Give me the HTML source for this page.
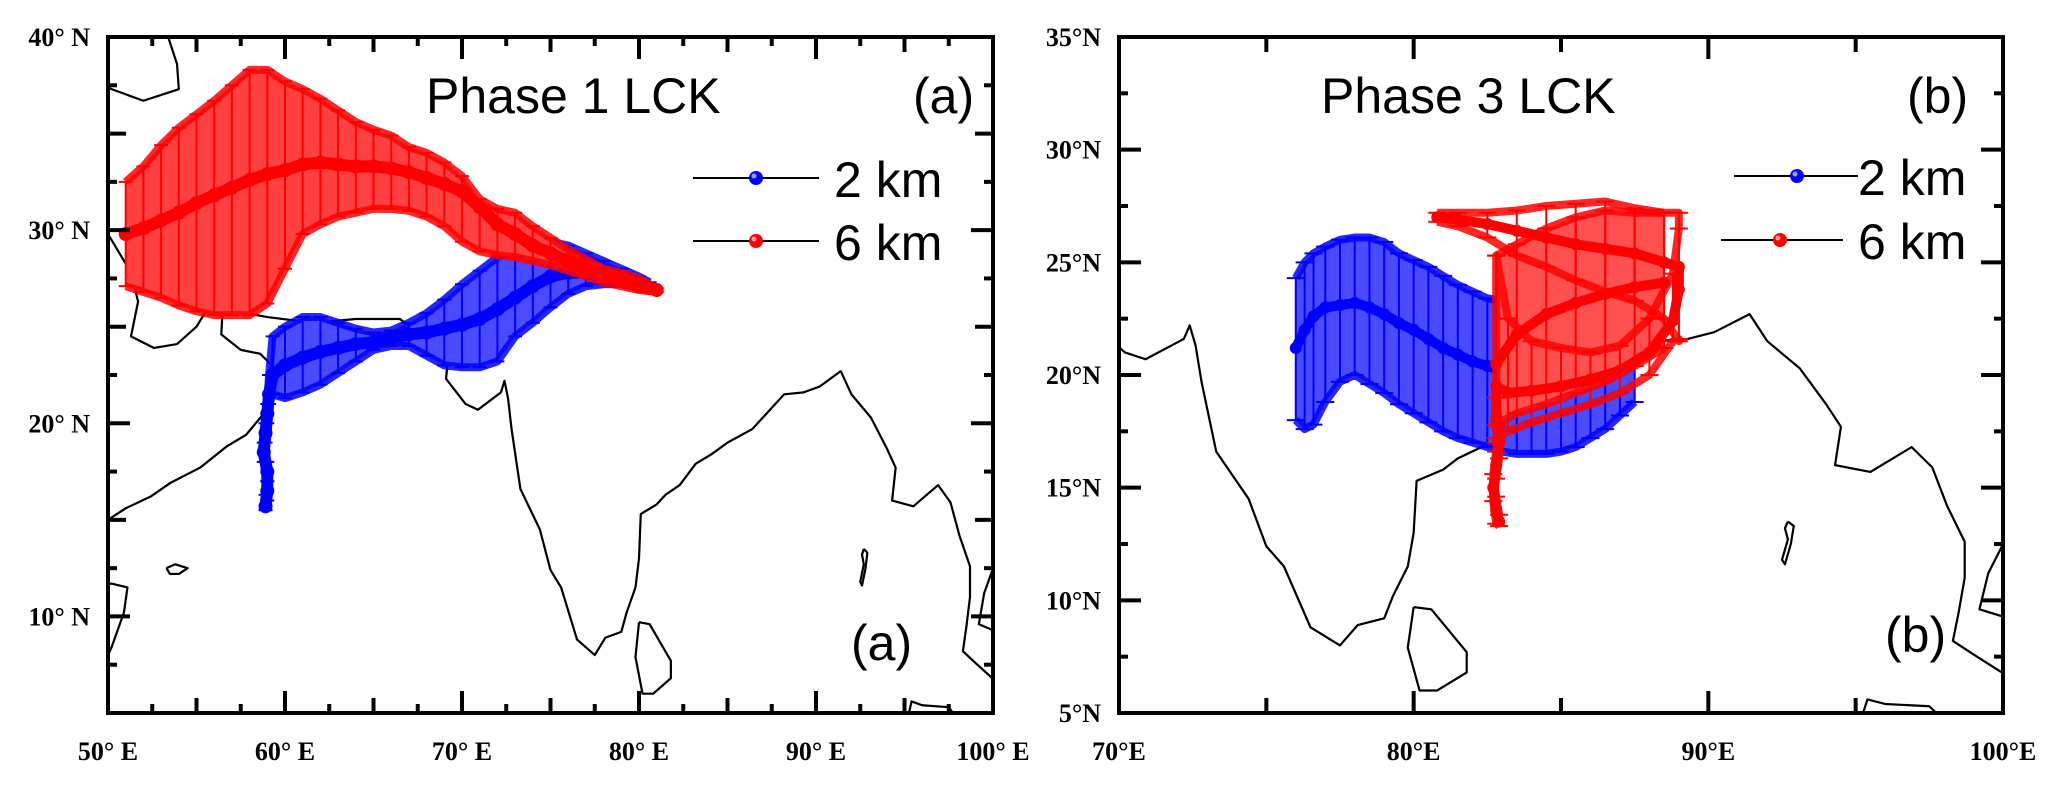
<!DOCTYPE html>
<html><head><meta charset="utf-8"><style>
html,body{margin:0;padding:0;background:#fff;}
svg{display:block;}
.ax{font-family:"Liberation Serif",serif;font-weight:bold;font-size:26px;fill:#000;}
.tt{font-family:"Liberation Sans",sans-serif;font-size:50px;fill:#000;}
</style></head><body>
<svg id="fig" width="2068" height="786" viewBox="0 0 2068 786" xmlns="http://www.w3.org/2000/svg">
<defs>
<clipPath id="clipA"><rect x="108" y="37" width="885" height="676"/></clipPath>
<clipPath id="clipB"><rect x="1119" y="37" width="884" height="676"/></clipPath>
</defs>
<g id="panelA"></g>
<g id="panelB"></g>
</svg>
<script>
// ---------- Panel A data (Phase 1) ----------
const a6Lon = [51,52,53,54,55,56,57,58,59,60,61,62,63,64,65,66,67,68,69,70,71,72,73,74,75,76,77,78,79,80,81];
const a6Lat = [29.8,30.1,30.5,30.9,31.4,31.8,32.2,32.6,32.9,33.1,33.4,33.5,33.4,33.3,33.3,33.2,33.0,32.7,32.4,32.0,31.2,30.3,29.8,29.2,28.8,28.4,28.0,27.7,27.4,27.1,26.9];
const a6Hi  = [32.5,33.3,34.4,35.3,36.0,36.7,37.5,38.3,38.3,37.7,37.3,36.8,36.2,35.6,35.2,34.9,34.3,34.0,33.5,32.8,31.6,31.1,30.9,30.2,29.6,29.0,28.5,28.0,27.8,27.5,27.0];
const a6Lo  = [27.1,26.8,26.5,26.1,25.8,25.6,25.6,25.6,26.2,28.0,29.8,30.3,30.7,30.9,31.1,31.1,31.0,30.7,30.2,29.4,28.9,28.7,28.6,28.4,28.2,27.9,27.6,27.3,27.1,26.9,26.8];
const a2Lon = [58.9,59.0,59.0,58.8,58.9,59.0,59.1,59.3,60,61,62,63,64,65,66,67,68,69,70,71,72,73,74,75,76,77,78,79,80,80.6];
const a2Lat = [15.7,16.5,17.5,18.5,19.5,20.5,21.5,22.5,23.0,23.4,23.7,23.9,24.1,24.2,24.4,24.6,24.7,24.9,25.1,25.4,25.9,26.5,27.1,27.6,27.8,27.8,27.6,27.4,27.2,27.0];
const a2Hi  = [16.3,17.0,18.0,19.0,20.0,21.0,22.5,24.5,25.0,25.5,25.5,25.2,24.9,24.7,24.8,25.2,25.7,26.4,27.2,27.9,28.6,28.9,29.2,29.4,29.2,28.8,28.4,28.0,27.6,27.3];
const a2Lo  = [15.5,16.0,17.0,18.0,19.0,20.0,21.0,21.5,21.3,21.6,22.0,22.6,23.2,23.8,24.0,24.0,23.5,23.0,22.9,22.9,23.2,24.5,25.2,26.0,26.7,27.1,27.2,27.2,27.0,26.9];
// ---------- Panel B data (Phase 3) ----------
const b2Lon = [76.0,76.3,76.6,77.0,77.5,78.0,78.5,79,79.5,80,80.5,81,81.5,82,82.5,83,83.5,84,84.5,85,85.5,86,86.5,87,87.5];
const b2Lat = [21.2,22.0,22.6,23.0,23.1,23.2,23.0,22.7,22.3,22.0,21.6,21.2,20.9,20.6,20.4,20.2,20.0,20.0,20.0,20.0,20.1,20.2,20.4,20.7,21.2];
const b2Hi  = [24.3,25.0,25.4,25.7,26.0,26.1,26.1,25.9,25.4,25.1,24.8,24.4,24.0,23.7,23.4,23.3,23.3,23.3,23.6,23.8,24.0,24.2,23.9,23.5,23.0];
const b2Lo  = [18.0,17.6,17.8,18.8,19.7,20.0,19.6,19.2,18.7,18.3,17.9,17.5,17.2,17.0,16.8,16.6,16.5,16.5,16.5,16.6,16.8,17.2,17.6,18.2,18.8];
const b6Lon = [80.8,81.5,82.5,83.5,84.5,85.5,86.5,87.5,88.5,89.0,89.0,88.8,88.0,87.0,86.0,85.0,84.0,83.2,82.8,82.8,82.9,82.8,82.7,82.8,82.9];
const b6Lat = [27.0,26.9,26.7,26.4,26.1,25.8,25.6,25.4,25.0,24.8,23.8,22.4,21.0,20.2,19.8,19.5,19.3,19.2,19.5,18.0,17.0,16.0,15.0,14.0,13.5];
const b6Hi  = [27.2,27.2,27.2,27.3,27.5,27.6,27.7,27.4,27.2,27.2,26.5,24.5,22.5,21.3,21.0,21.2,21.5,22.5,25.3,19.0,17.7,16.6,15.6,14.6,13.8];
const b6Lo  = [26.8,26.6,26.1,25.3,24.8,24.2,23.7,23.3,22.5,21.5,21.6,21.5,20.0,19.2,18.7,18.3,17.9,17.5,17.2,17.0,16.3,15.4,14.4,13.4,13.3];
const b6bLon = [82.8,83.5,84.5,85.5,86.5,87.5,88.5];
const b6bLat = [20.5,21.8,22.7,23.2,23.6,23.9,24.1];
const b6bHi  = [25.3,25.8,26.5,27.0,27.3,27.2,27.2];
const b6bLo  = [17.8,18.3,18.7,19.2,19.7,20.4,21.2];
// ---------- Coastlines (lon,lat) ----------
const coastMain = [[50,29.8],[51.3,27.8],[51.7,26.3],[51.3,24.5],[52.6,23.9],[53.9,24.1],[55,25],[56.2,26.8],[56.5,26.3],[56.4,24.6],[57.5,23.8],[58.6,23.6],[59.8,22.5],[58.8,20.5],[57.8,19.4],[56.7,18.8],[55.2,17.7],[53.5,16.9],[52.4,16.2],[51,15.6],[50,15.0]];
const coastIndia = [[56.3,27.1],[57.2,25.8],[59,25.5],[61.6,25.2],[64,25.4],[66.5,25.4],[67.3,24.8],[68.3,23.7],[69.2,23.3],[69.1,22.3],[70.2,21.0],[70.9,20.7],[72.2,21.6],[72.4,22.2],[72.6,21.3],[72.8,19.7],[73.3,16.6],[74.4,14.5],[75,12.4],[75.6,11.5],[76.5,8.8],[77.5,8.0],[78.1,8.9],[79,9.2],[79.3,10.2],[79.8,11.5],[80,13],[80.1,15.3],[81,15.8],[81.5,16.3],[82.3,16.8],[83.2,17.9],[84.1,18.4],[85,19],[86.4,19.7],[87.3,20.6],[88.2,21.5],[89.3,21.6],[90.2,21.9],[91.4,22.7],[92,21.5],[93.1,20.3],[94,18.7],[94.5,17.7],[94.3,16],[95.5,15.7],[96.9,16.8],[97.6,15.9],[98.1,14.2],[98.7,12.6],[98.7,11],[98.5,9.5],[98.3,8.2],[99,7.6],[100.2,6.6]];
const coastCaspian = [[53.3,40.5],[53.4,40],[53.9,38.6],[54,37.3],[52,36.7],[50.2,37.3],[49.8,37.5]];
const coastThai = [[100.2,13.0],[99.5,11.2],[99.2,9.6],[100.2,9.2]];
const coastSriLanka = [[80,9.7],[80.6,9.6],[81.8,7.7],[81.8,6.8],[80.8,6.0],[80.2,6.0],[79.8,7.9],[80,9.7]];
const coastAndaman = [[92.7,13.5],[92.9,13.3],[92.8,12.5],[92.6,11.6],[92.5,11.8],[92.7,12.7],[92.6,13.2],[92.7,13.5]];
const coastSocotra = [[53.3,12.5],[53.8,12.7],[54.5,12.5],[54.0,12.2],[53.5,12.2],[53.3,12.5]];
const coastHorn = [[49.8,11.6],[50.2,11.7],[51.1,11.5],[50.9,10.2],[50.2,8.4],[49.8,7.6]];
const coastSumatra = [[95.2,4.8],[95.4,5.6],[96,5.4],[97.5,5.3],[97.9,4.8]];
const coasts = [coastMain,coastIndia,coastCaspian,coastThai,coastSriLanka,coastAndaman,coastSocotra,coastHorn,coastSumatra];

const NS="http://www.w3.org/2000/svg";
function mk(tag, attrs, parent){const e=document.createElementNS(NS,tag);for(const k in attrs)e.setAttribute(k,attrs[k]);parent.appendChild(e);return e;}

function drawPanel(g, P){
  const X = lon => P.x0 + (lon-P.lon0)/(P.lon1-P.lon0)*(P.x1-P.x0);
  const Y = lat => P.y1 - (lat-P.lat0)/(P.lat1-P.lat0)*(P.y1-P.y0);
  const inner = mk('g',{'clip-path':'url(#'+P.clip+')'},g);
  coasts.forEach(c=>{
    const p = mk('polyline',{points:c.map(q=>X(q[0])+','+Y(q[1])).join(' '),fill:'none',stroke:'#000','stroke-width':2.2,'stroke-linejoin':'round'},inner);
    
    
  });
  P.series.forEach(s=>{
    const sg = mk('g',{},inner);
    
    
    const n = s.lon.length;
    const capW = P.capW;
    let pts=[];
    for(let i=0;i<n;i++) pts.push(X(s.lon[i])+','+Y(s.hi[i]));
    for(let i=n-1;i>=0;i--) pts.push(X(s.lon[i])+','+Y(s.lo[i]));
    if(s.band){
      const b = mk('polygon',{points:pts.join(' '),fill:s.fill,stroke:'none'},sg);
      
      
    }
    for(let i=0;i<n;i++){
      const x=X(s.lon[i]);
      const eb = mk('path',{d:`M${x},${Y(s.hi[i])}V${Y(s.lo[i])}M${x-capW},${Y(s.hi[i])}H${x+capW}M${x-capW},${Y(s.lo[i])}H${x+capW}`,stroke:s.color,'stroke-width':2,fill:'none'},sg);
      
      
    }
    ['hi','lo'].forEach(k=>{
      const e = mk('polyline',{points:s.lon.map((v,i)=>X(v)+','+Y(s[k][i])).join(' '),fill:'none',stroke:s.color,'stroke-width':8,'stroke-linejoin':'round','stroke-opacity':0.85},sg);
      
      
    });
    const ln = mk('polyline',{points:s.lon.map((v,i)=>X(v)+','+Y(s.lat[i])).join(' '),fill:'none',stroke:s.color,'stroke-width':P.lineW,'stroke-linejoin':'round','stroke-linecap':'round'},sg);
    
    
    for(let i=0;i<n;i++){
      const c = mk('circle',{cx:X(s.lon[i]),cy:Y(s.lat[i]),r:P.lineW/2+1,fill:s.color},sg);
      
      
    }
  });
  const fr = mk('rect',{x:P.x0,y:P.y0,width:P.x1-P.x0,height:P.y1-P.y0,fill:'none',stroke:'#000','stroke-width':4},g);
  
  
  const tg = mk('g',{stroke:'#000','stroke-width':4},g);
  
  
  for(let lon=P.lon0; lon<=P.lon1+0.01; lon+=P.xMinor){
    const x=X(lon); const major = Math.abs(lon%10)<0.01; const mid = Math.abs(lon%5)<0.01;
    const L = major?22:(mid?15:9);
    mk('line',{x1:x,y1:P.y1,x2:x,y2:P.y1-L},tg);
    mk('line',{x1:x,y1:P.y0,x2:x,y2:P.y0+L},tg);
  }
  for(let lat=P.lat0; lat<=P.lat1+0.01; lat+=2.5){
    const y=Y(lat); const major = Math.abs(lat%P.yMajor)<0.01; const mid = Math.abs(lat%5)<0.01;
    const L = major?22:(mid?18:9);
    mk('line',{x1:P.x0,y1:y,x2:P.x0+L,y2:y},tg);
    mk('line',{x1:P.x1,y1:y,x2:P.x1-L,y2:y},tg);
  }
  P.xLabels.forEach(lon=>{
    const t = mk('text',{x:X(lon),y:760,'text-anchor':'middle',class:'ax'},g);
    t.textContent = lon+P.degE;
    
    
  });
  P.yLabels.forEach(lat=>{
    const t = mk('text',{x:P.x0-18,y:Y(lat)+9,'text-anchor':'end',class:'ax'},g);
    t.textContent = lat+P.degN;
    
    
  });
  const tl = mk('text',{x:P.titleX,y:113,class:'tt'},g); tl.textContent=P.title;
  
  
  const t1 = mk('text',{x:P.tagX,y:113,class:'tt'},g); t1.textContent=P.tag;
  
  
  const t2 = mk('text',{x:P.tag2X,y:P.tag2Y,class:'tt'},g); t2.textContent=P.tag;
  
  
  P.legend.forEach(L=>{
    const lg = mk('g',{},g);
    
    
    mk('line',{x1:L.x1,y1:L.y,x2:L.x2,y2:L.y,stroke:'#000','stroke-width':2},lg);
    mk('circle',{cx:L.mx,cy:L.y,r:7,fill:L.color},lg);
    mk('circle',{cx:L.mx-2,cy:L.y-2,r:2.5,fill:'#fff','fill-opacity':0.6},lg);
    const t = mk('text',{x:L.tx,y:L.y+19,class:'tt','font-size':'52'},lg); t.textContent=L.label;
  });
}

drawPanel(document.getElementById('panelA'),{
  x0:108,x1:993,y0:37,y1:713,lon0:50,lon1:100,lat0:5,lat1:40,clip:'clipA',
  xMinor:2.5,yMajor:10,capW:7,lineW:12,degE:'° E',degN:'° N',
  xLabels:[50,60,70,80,90,100], yLabels:[10,20,30,40],
  title:'Phase 1 LCK', titleX:426, tag:'(a)', tagX:913, tag2X:851, tag2Y:660,
  series:[
    {name:'series-2km',lon:a2Lon,lat:a2Lat,hi:a2Hi,lo:a2Lo,color:'#0000ff',fill:'#4a4aff',band:true},
    {name:'series-6km',lon:a6Lon,lat:a6Lat,hi:a6Hi,lo:a6Lo,color:'#ff0000',fill:'#ff4040',band:true}
  ],
  legend:[
    {label:'2 km',color:'#0000ff',x1:693,x2:819,mx:756,y:178,tx:834},
    {label:'6 km',color:'#ff0000',x1:693,x2:819,mx:756,y:241,tx:834}
  ]
});
drawPanel(document.getElementById('panelB'),{
  x0:1119,x1:2003,y0:37,y1:713,lon0:70,lon1:100,lat0:5,lat1:35,clip:'clipB',
  xMinor:5,yMajor:5,capW:9,lineW:10,degE:'°E',degN:'°N',
  xLabels:[70,80,90,100], yLabels:[5,10,15,20,25,30,35],
  title:'Phase 3 LCK', titleX:1321, tag:'(b)', tagX:1907, tag2X:1885, tag2Y:652,
  series:[
    {name:'series-2km',lon:b2Lon,lat:b2Lat,hi:b2Hi,lo:b2Lo,color:'#0000ff',fill:'#4a4aff',band:true},
    {name:'series-6km-branch',lon:b6bLon,lat:b6bLat,hi:b6bHi,lo:b6bLo,color:'#ff0000',fill:'#ff5050',band:true},
    {name:'series-6km',lon:b6Lon,lat:b6Lat,hi:b6Hi,lo:b6Lo,color:'#ff0000',fill:'#ff5050',band:false}
  ],
  legend:[
    {label:'2 km',color:'#0000ff',x1:1734,x2:1858,mx:1797,y:176,tx:1858},
    {label:'6 km',color:'#ff0000',x1:1721,x2:1843,mx:1780,y:240,tx:1858}
  ]
});
</script>
</body></html>
